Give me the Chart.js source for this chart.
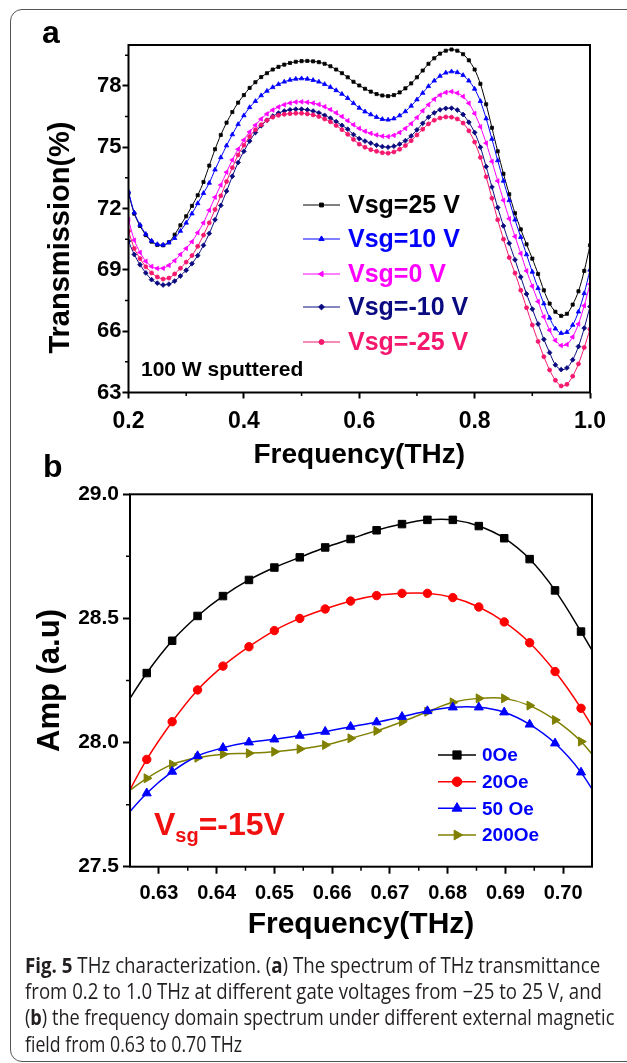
<!DOCTYPE html>
<html>
<head>
<meta charset="utf-8">
<script src="https://cdn.jsdelivr.net/npm/chart.js@4.4.1/dist/chart.umd.min.js"></script>
<style>
  body { margin: 0; background: #fff; }
  #page { position: relative; width: 627px; height: 1063px; overflow: hidden; }
  #frame { position: absolute; left: 10px; top: 9px; width: 650px; height: 1053px;
           border: 1.5px solid #555; border-radius: 12px; box-sizing: border-box; }
  #chartA { position: absolute; left: 0; top: 0; }
  #chartB { position: absolute; left: 0; top: 440px; }
  #caption { position: absolute; left: 25px; top: 952px; font-family: "Open Sans", "Liberation Sans", sans-serif;
             font-size: 21px; line-height: 26.2px; color: #231f20; white-space: nowrap; }
  #caption div { display: block; width: max-content; transform-origin: 0 0; }
</style>
</head>
<body>
<div id="page">
  <div id="frame"></div>
  <canvas id="chartA" width="627" height="480"></canvas>
  <canvas id="chartB" width="627" height="510"></canvas>
  <div id="caption">
    <div><b>Fig. 5</b> THz characterization. (<b>a</b>) The spectrum of THz transmittance</div>
    <div>from 0.2 to 1.0 THz at different gate voltages from &minus;25 to 25 V, and</div>
    <div>(<b>b</b>) the frequency domain spectrum under different external magnetic</div>
    <div>field from 0.63 to 0.70 THz</div>
  </div>
</div>
<script>
// panel a: THz transmission vs frequency for several gate voltages
const freqA = [0.20, 0.21, 0.22, 0.23, 0.24, 0.25, 0.26, 0.27, 0.28, 0.29,
  0.30, 0.31, 0.32, 0.33, 0.34, 0.35, 0.36, 0.37, 0.38, 0.39,
  0.40, 0.41, 0.42, 0.43, 0.44, 0.45, 0.46, 0.47, 0.48, 0.49,
  0.50, 0.51, 0.52, 0.53, 0.54, 0.55, 0.56, 0.57, 0.58, 0.59,
  0.60, 0.61, 0.62, 0.63, 0.64, 0.65, 0.66, 0.67, 0.68, 0.69,
  0.70, 0.71, 0.72, 0.73, 0.74, 0.75, 0.76, 0.77, 0.78, 0.79,
  0.80, 0.81, 0.82, 0.83, 0.84, 0.85, 0.86, 0.87, 0.88, 0.89,
  0.90, 0.91, 0.92, 0.93, 0.94, 0.95, 0.96, 0.97, 0.98, 0.99, 1.00];
const vsg25 = [72.75, 71.75, 71.15, 70.7, 70.38, 70.22, 70.2, 70.35, 70.72, 71.18,
  71.62, 72.13, 72.65, 73.3, 74.1, 74.9, 75.6, 76.2, 76.72, 77.18,
  77.55, 77.9, 78.18, 78.43, 78.62, 78.8, 78.93, 79.04, 79.12, 79.18,
  79.21, 79.22, 79.2, 79.16, 79.08, 78.96, 78.8, 78.62, 78.42, 78.2,
  78.02, 77.86, 77.72, 77.6, 77.53, 77.5, 77.55, 77.68, 77.88, 78.12,
  78.42, 78.75, 79.08, 79.35, 79.58, 79.72, 79.78, 79.72, 79.55, 79.25,
  78.8, 78.1, 77.1, 75.95, 74.8, 73.7, 72.7, 71.77, 70.98, 70.25,
  69.55, 68.8, 68.0, 67.35, 66.95, 66.75, 66.85, 67.3, 67.95, 68.95, 70.2];
const vsg10 = [72.83, 71.8, 71.2, 70.75, 70.42, 70.25, 70.22, 70.33, 70.55, 70.9,
  71.3, 71.75, 72.25, 72.75, 73.25, 73.9, 74.5, 75.08, 75.62, 76.12,
  76.55, 76.95, 77.25, 77.53, 77.75, 77.93, 78.08, 78.2, 78.29, 78.34,
  78.36, 78.34, 78.28, 78.2, 78.08, 77.94, 77.78, 77.6, 77.4, 77.15,
  76.92, 76.74, 76.6, 76.47, 76.37, 76.34, 76.4, 76.55, 76.75, 77.02,
  77.33, 77.65, 77.98, 78.25, 78.48, 78.64, 78.7, 78.66, 78.52, 78.25,
  77.85, 77.25, 76.4, 75.4, 74.35, 73.35, 72.4, 71.45, 70.6, 69.75,
  68.9, 68.1, 67.35, 66.65, 66.12, 65.9, 65.95, 66.3, 66.95, 67.85, 69.0];
const vsg0 = [71.45, 70.45, 69.85, 69.42, 69.17, 69.07, 69.08, 69.22, 69.45, 69.75,
  70.05, 70.38, 70.82, 71.3, 71.92, 72.55, 73.15, 73.78, 74.38, 74.9,
  75.35, 75.75, 76.08, 76.38, 76.63, 76.82, 76.97, 77.08, 77.16, 77.21,
  77.22, 77.2, 77.16, 77.09, 76.98, 76.84, 76.68, 76.5, 76.3, 76.1,
  75.92, 75.78, 75.68, 75.6, 75.54, 75.52, 75.58, 75.72, 75.92, 76.15,
  76.45, 76.78, 77.08, 77.35, 77.55, 77.68, 77.72, 77.65, 77.48, 77.15,
  76.65, 76.0, 75.2, 74.3, 73.35, 72.4, 71.5, 70.63, 69.8, 68.95,
  68.2, 67.45, 66.7, 66.05, 65.55, 65.3, 65.35, 65.72, 66.35, 67.25, 68.3];
const vsgM10 = [70.4, 69.75, 69.25, 68.85, 68.52, 68.35, 68.26, 68.3, 68.45, 68.7,
  68.98, 69.3, 69.7, 70.2, 70.78, 71.45, 72.15, 72.85, 73.58, 74.25,
  74.8, 75.3, 75.72, 76.05, 76.32, 76.52, 76.67, 76.77, 76.83, 76.86,
  76.86, 76.83, 76.77, 76.68, 76.56, 76.42, 76.25, 76.07, 75.88, 75.62,
  75.42, 75.3, 75.2, 75.1, 75.03, 75.0, 75.05, 75.15, 75.32, 75.55,
  75.85, 76.17, 76.47, 76.68, 76.83, 76.9, 76.91, 76.82, 76.6, 76.22,
  75.72, 75.0, 74.05, 73.05, 72.05, 71.15, 70.3, 69.49, 68.65, 67.82,
  67.08, 66.35, 65.6, 64.95, 64.35, 64.12, 64.2, 64.6, 65.25, 66.15, 67.2];
const vsgM25 = [70.9, 70.05, 69.55, 69.15, 68.85, 68.65, 68.55, 68.6, 68.8, 69.08,
  69.38, 69.7, 70.15, 70.7, 71.3, 71.95, 72.62, 73.32, 74.0, 74.62,
  75.1, 75.52, 75.85, 76.1, 76.32, 76.47, 76.56, 76.61, 76.64, 76.66,
  76.66, 76.63, 76.58, 76.5, 76.38, 76.24, 76.06, 75.86, 75.63, 75.38,
  75.15, 75.0, 74.88, 74.8, 74.73, 74.71, 74.77, 74.9, 75.08, 75.32,
  75.6, 75.88, 76.14, 76.32, 76.43, 76.48, 76.47, 76.38, 76.18, 75.8,
  75.25, 74.5, 73.55, 72.5, 71.45, 70.5, 69.6, 68.84, 68.0, 67.15,
  66.3, 65.5, 64.75, 64.1, 63.6, 63.32, 63.4, 63.8, 64.4, 65.2, 66.1];
const voltLabels = ['Vsg=25 V', 'Vsg=10 V', 'Vsg=0 V', 'Vsg=-10 V', 'Vsg=-25 V'];
const transTicks = [63, 66, 69, 72, 75, 78];
const transMinor = [64.5, 67.5, 70.5, 73.5, 76.5, 79.5];
const freqTicksA = [0.2, 0.4, 0.6, 0.8, 1.0];
const freqMinorA = [0.3, 0.5, 0.7, 0.9];

// panel b: amplitude vs frequency for several magnetic fields (Vsg = -15 V)
const freqB = [0.6234, 0.6279, 0.6323, 0.6367, 0.6411, 0.6456, 0.6500, 0.6544, 0.6588, 0.6632,
  0.6677, 0.6721, 0.6765, 0.6809, 0.6854, 0.6898, 0.6942, 0.6986, 0.7031, 0.7075];
const oe0 = [28.12, 28.28, 28.41, 28.51, 28.59, 28.655, 28.705, 28.746, 28.786, 28.82,
  28.855, 28.88, 28.897, 28.897, 28.872, 28.823, 28.739, 28.613, 28.447, 28.27];
const oe20 = [27.74, 27.932, 28.084, 28.212, 28.308, 28.386, 28.451, 28.5, 28.538, 28.57,
  28.592, 28.601, 28.601, 28.584, 28.546, 28.486, 28.402, 28.286, 28.138, 27.966];
const oe50 = [27.68, 27.796, 27.883, 27.946, 27.979, 28.001, 28.013, 28.028, 28.044, 28.064,
  28.082, 28.104, 28.127, 28.142, 28.142, 28.122, 28.073, 27.997, 27.88, 27.715];
const oe200 = [27.78, 27.856, 27.912, 27.939, 27.953, 27.957, 27.963, 27.974, 27.99, 28.017,
  28.047, 28.084, 28.124, 28.162, 28.178, 28.178, 28.149, 28.091, 28.004, 27.878];
const fieldLabels = ['0Oe', '20Oe', '50 Oe', '200Oe'];
const ampTicks = [27.5, 28.0, 28.5, 29.0];
const ampMinor = [27.75, 28.25, 28.75];
const freqTicksB = [0.63, 0.64, 0.65, 0.66, 0.67, 0.68, 0.69, 0.70];
const freqMinorB = [0.635, 0.645, 0.655, 0.665, 0.675, 0.685, 0.695];

const FONT = '"Liberation Sans", Arial, sans-serif';
const bold = size => ({ family: FONT, size: size, weight: 'bold' });

function pts(xs, ys) {
  return xs.map((x, i) => ({ x: x, y: ys[i] }));
}

function frameAndMinor(chart, xMinor, yMinor, len) {
  const ctx = chart.ctx, a = chart.chartArea;
  const sx = chart.scales.x, sy = chart.scales.y;
  ctx.save();
  ctx.strokeStyle = '#000';
  ctx.lineWidth = 2;
  ctx.strokeRect(a.left, a.top, a.right - a.left, a.bottom - a.top);
  ctx.lineWidth = 1.5;
  ctx.beginPath();
  xMinor.forEach(v => {
    const p = sx.getPixelForValue(v);
    ctx.moveTo(p, a.bottom); ctx.lineTo(p, a.bottom + len);
  });
  yMinor.forEach(v => {
    const p = sy.getPixelForValue(v);
    ctx.moveTo(a.left, p); ctx.lineTo(a.left - len, p);
  });
  ctx.stroke();
  ctx.restore();
}

function drawLegend(chart, x0, x1, tx, rows, size, textColor) {
  const ctx = chart.ctx;
  ctx.save();
  chart.data.datasets.forEach((ds, i) => {
    const y = rows[i];
    ctx.strokeStyle = ds.borderColor;
    ctx.lineWidth = ds.borderWidth;
    ctx.beginPath(); ctx.moveTo(x0, y); ctx.lineTo(x1, y); ctx.stroke();
    ctx.fillStyle = ds.pointBackgroundColor;
    ctx.lineWidth = 1;
    Chart.helpers.drawPoint(ctx, { pointStyle: ds.pointStyle, radius: ds.pointRadius + 0.5,
      rotation: ds.pointRotation || 0, borderWidth: 1 }, (x0 + x1) / 2, y);
    ctx.fillStyle = textColor || ds.borderColor;
    ctx.font = 'bold ' + size + 'px ' + FONT;
    ctx.textBaseline = 'middle';
    ctx.textAlign = 'left';
    ctx.fillText(ds.label, tx, y + 1);
  });
  ctx.restore();
}

function axisCommon(tickFont, tickLen, pad) {
  return {
    type: 'linear',
    border: { display: false },
    grid: { drawOnChartArea: false, tickLength: tickLen, tickWidth: 2, tickColor: '#000' },
    ticks: { font: tickFont, color: '#000', padding: pad, autoSkip: false, maxRotation: 0 }
  };
}

// ---------- chart a ----------
const colorsA = ['#000000', '#0000ff', '#ff00ff', '#0a0a80', '#f5176e'];
const stylesA = [
  { pointStyle: 'rect', pointRadius: 2.2, pointRotation: 0 },
  { pointStyle: 'triangle', pointRadius: 2.6, pointRotation: 0 },
  { pointStyle: 'triangle', pointRadius: 2.6, pointRotation: -90 },
  { pointStyle: 'rectRot', pointRadius: 2.4, pointRotation: 0 },
  { pointStyle: 'circle', pointRadius: 2.0, pointRotation: 0 }
];
const seriesA = [vsg25, vsg10, vsg0, vsgM10, vsgM25];

const xA = axisCommon(bold(23), 6, 9);
xA.min = 0.2; xA.max = 1.0;
xA.afterBuildTicks = s => { s.ticks = freqTicksA.map(v => ({ value: v })); };
xA.afterFit = s => { s.height = 79.3; };
xA.ticks.callback = v => v.toFixed(1);
xA.title = { display: true, text: 'Frequency(THz)', font: bold(28), color: '#000', padding: 0 };

const yA = axisCommon(bold(22), 6, 1);
yA.min = 63; yA.max = 80;
yA.afterBuildTicks = s => { s.ticks = transTicks.map(v => ({ value: v })); };
yA.afterFit = s => { s.width = 84.9; };

new Chart(document.getElementById('chartA'), {
  type: 'line',
  data: {
    datasets: seriesA.map((vals, i) => ({
      label: voltLabels[i],
      data: pts(freqA, vals),
      borderColor: colorsA[i],
      backgroundColor: colorsA[i],
      pointBackgroundColor: colorsA[i],
      pointBorderColor: colorsA[i],
      pointBorderWidth: 0.8,
      borderWidth: 1,
      tension: 0.3,
      pointStyle: stylesA[i].pointStyle,
      pointRadius: stylesA[i].pointRadius,
      pointRotation: stylesA[i].pointRotation
    })).reverse()
  },
  options: {
    responsive: false,
    animation: false,
    layout: { padding: { left: 43.6, right: 37, top: 45, bottom: 8.2 } },
    plugins: { legend: { display: false }, tooltip: { enabled: false } },
    scales: { x: xA, y: yA }
  },
  plugins: [{
    id: 'decorA',
    afterDraw(chart) {
      const ctx = chart.ctx;
      frameAndMinor(chart, freqMinorA, transMinor, 3.5);
      // legend in original series order
      const saved = chart.data.datasets;
      chart.data.datasets = saved.slice().reverse();
      drawLegend(chart, 303, 340, 348, [205, 239, 274, 307, 342], 25);
      chart.data.datasets = saved;
      ctx.save();
      ctx.fillStyle = '#000';
      ctx.textAlign = 'left';
      ctx.textBaseline = 'alphabetic';
      ctx.font = 'bold 32px ' + FONT;
      ctx.fillText('a', 42, 43);
      ctx.font = 'bold 21px ' + FONT;
      ctx.fillText('100 W sputtered', 141, 376);
      ctx.translate(61, 237.5);
      ctx.rotate(-Math.PI / 2);
      ctx.textAlign = 'center';
      ctx.textBaseline = 'middle';
      ctx.font = 'bold 29px ' + FONT;
      ctx.fillText('Transmission(%)', 0, 0);
      ctx.restore();
    }
  }]
});

// ---------- chart b ----------
const colorsB = ['#000000', '#ff0000', '#0000ff', '#808000'];
const stylesB = [
  { pointStyle: 'rect', pointRadius: 5.3, pointRotation: 0 },
  { pointStyle: 'circle', pointRadius: 4.2, pointRotation: 0 },
  { pointStyle: 'triangle', pointRadius: 5.2, pointRotation: 0 },
  { pointStyle: 'triangle', pointRadius: 5.2, pointRotation: 90 }
];
const seriesB = [oe0, oe20, oe50, oe200];

const xB = axisCommon(bold(20), 7, 8);
xB.min = 0.625; xB.max = 0.705;
xB.afterBuildTicks = s => { s.ticks = freqTicksB.map(v => ({ value: v })); };
xB.afterFit = s => { s.height = 76.3; };
xB.ticks.callback = v => v.toFixed(2);
xB.title = { display: true, text: 'Frequency(THz)', font: bold(30), color: '#000', padding: 0 };

const yB = axisCommon(bold(21), 7, 4);
yB.min = 27.5; yB.max = 29.0;
yB.afterBuildTicks = s => { s.ticks = ampTicks.map(v => ({ value: v })); };
yB.afterFit = s => { s.width = 98.6; };
yB.ticks.callback = v => v.toFixed(1);
yB.title = { display: true, text: 'Amp (a.u)', font: bold(31), color: '#000', padding: 0 };

new Chart(document.getElementById('chartB'), {
  type: 'line',
  data: {
    datasets: seriesB.map((vals, i) => ({
      label: fieldLabels[i],
      data: pts(freqB, vals),
      borderColor: colorsB[i],
      backgroundColor: colorsB[i],
      pointBackgroundColor: colorsB[i],
      pointBorderColor: colorsB[i],
      pointBorderWidth: 1,
      borderWidth: 1.5,
      tension: 0.35,
      pointStyle: stylesB[i].pointStyle,
      pointRadius: stylesB[i].pointRadius,
      pointRotation: stylesB[i].pointRotation
    }))
  },
  options: {
    responsive: false,
    animation: false,
    layout: { padding: { left: 31.4, right: 35, top: 54.3, bottom: 7 } },
    plugins: { legend: { display: false }, tooltip: { enabled: false } },
    scales: { x: xB, y: yB }
  },
  plugins: [{
    id: 'decorB',
    afterDraw(chart) {
      const ctx = chart.ctx;
      frameAndMinor(chart, freqMinorB, ampMinor, 4);
      drawLegend(chart, 438, 476, 482, [315, 341.7, 368.3, 395], 19, '#0000ff');
      ctx.save();
      ctx.fillStyle = '#000';
      ctx.textAlign = 'left';
      ctx.textBaseline = 'alphabetic';
      ctx.font = 'bold 32px ' + FONT;
      ctx.fillText('b', 43, 37);
      // V with subscript sg
      ctx.fillStyle = '#f01010';
      let x = 154;
      ctx.font = 'bold 32px ' + FONT;
      ctx.fillText('V', x, 395);
      x += ctx.measureText('V').width;
      ctx.font = 'bold 20px ' + FONT;
      ctx.fillText('sg', x, 402);
      x += ctx.measureText('sg').width;
      ctx.font = 'bold 32px ' + FONT;
      ctx.fillText('=-15V', x, 395);
      ctx.restore();
    }
  }]
});

// caption lines are set in a condensed face in the original; squeeze to the same line widths
const captionWidths = [575, 577, 589, 217];
document.querySelectorAll('#caption div').forEach((line, i) => {
  const w = line.getBoundingClientRect().width;
  line.style.transform = 'scaleX(' + (captionWidths[i] / w).toFixed(3) + ')';
});
</script>
</body>
</html>
